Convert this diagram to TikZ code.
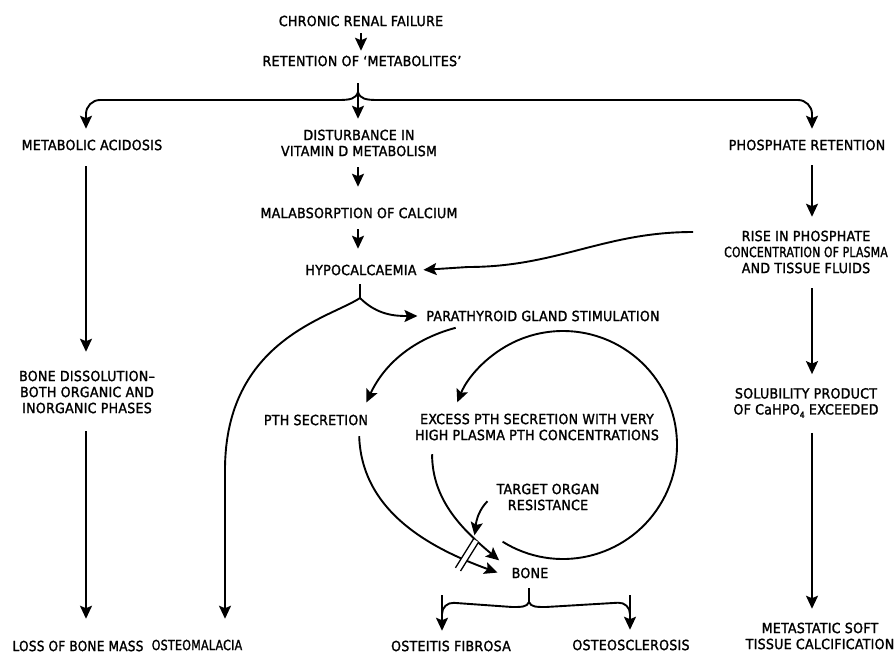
\documentclass[tikz,border=0pt]{standalone}
\usepackage{fontspec}
\setmainfont{DejaVu Sans Condensed}[LetterSpace=2, FakeBold=1.6]
\usetikzlibrary{arrows.meta}
\newcommand{\lowidx}[1]{\raisebox{-.45ex}{\fontsize{8.5}{8.5}\selectfont #1}}
\newcommand{\narrow}[2][0.85]{\scalebox{#1}[1]{#2}}

\begin{document}
\begin{tikzpicture}[x=1pt, y=1pt, line width=1.9pt,
    lbl/.style={align=center, inner sep=4pt, font=\fontsize{14}{16}\selectfont},
    arr/.style={-{Stealth[length=13pt,width=12pt,inset=2.5pt]}, shorten >=9pt, shorten <=10pt},
    bar/.style={line width=1.3pt}]
    \useasboundingbox (0,0) rectangle (895,-653);

    \coordinate (lcol) at (86,0);
    \coordinate (mcol) at (225,0);
    \coordinate (rcol) at (812,0);
    \coordinate (fibcol) at (442,0);
    \coordinate (sclcol) at (630,0);

    \node[lbl] (crf) at (361,-21) {CHRONIC RENAL FAILURE};
    \node[lbl] (ret) at (362,-61) {RETENTION OF ‘METABOLITES’};
    \node[lbl] (acid) at (92,-145) {METABOLIC ACIDOSIS};
    \node[lbl] (vitd) at (359,-143) {DISTURBANCE IN\\VITAMIN D METABOLISM};
    \node[lbl] (phos) at (807,-145) {PHOSPHATE RETENTION};
    \node[lbl] (malabs) at (359,-213) {MALABSORPTION OF CALCIUM};
    \node[lbl] (hypo) at (361,-270) {HYPOCALCAEMIA};
    \node[lbl] (rise) at (806,-252) {RISE IN PHOSPHATE\\\narrow[0.86]{CONCENTRATION OF PLASMA}\\AND TISSUE FLUIDS};
    \node[lbl] (para) at (543,-316) {PARATHYROID GLAND STIMULATION};
    \node[lbl] (dissol) at (87,-392) {BONE DISSOLUTION–\\BOTH ORGANIC AND\\INORGANIC PHASES};
    \node[lbl] (pth) at (316,-420) {PTH SECRETION};
    \node[lbl] (excess) at (537,-427) {EXCESS PTH SECRETION WITH VERY\\HIGH PLASMA PTH CONCENTRATIONS};
    \node[lbl] (solub) at (806,-403) {SOLUBILITY PRODUCT\\OF CaHPO\lowidx{4} EXCEEDED};
    \node[lbl] (target) at (548,-497) {TARGET ORGAN\\RESISTANCE};
    \node[lbl] (bone) at (530,-573) {BONE};
    \node[lbl] (meta) at (820,-636) {METASTATIC SOFT\\TISSUE CALCIFICATION};
    \node[lbl] (loss) at (78,-646) {\narrow[0.96]{LOSS OF BONE MASS}};
    \node[lbl] (malacia) at (197,-645) {\narrow[0.88]{OSTEOMALACIA}};
    \node[lbl] (fibrosa) at (451,-646) {OSTEITIS FIBROSA};
    \node[lbl] (sclerosis) at (631,-645) {OSTEOSCLEROSIS};

    % top of the chart
    \draw[arr, shorten <=2pt, shorten >=0pt] (crf.south) -- (crf.south |- ret.north);
    \coordinate (junc) at (358,-92);
    \coordinate (lcorner) at (86,-100);
    \coordinate (rcorner) at (812,-100);
    \draw[shorten <=12pt] (ret.south -| junc) -- (junc);
    \draw[arr, shorten <=0pt, shorten >=6pt] (junc) .. controls (356,-99) and (350,-100) .. (338,-100)
        [rounded corners=14pt] -- (lcorner) -- (lcorner |- acid.north);
    \draw[arr, shorten <=0pt, shorten >=6pt] (junc) .. controls (360,-99) and (366,-100) .. (378,-100)
        [rounded corners=14pt] -- (rcorner) -- (rcorner |- phos.north);
    \draw[arr, shorten <=0pt, shorten >=6pt] (junc) -- (junc |- vitd.north);

    % middle column
    \draw[arr, shorten <=6pt, shorten >=16pt] (vitd.south -| junc) -- (junc |- malabs.north);
    \draw[arr, shorten <=6pt, shorten >=11pt] (malabs.south -| junc) -- (junc |- hypo.north);
    \coordinate (hfork) at (360,-298);
    \draw[shorten <=4pt] (hypo.south -| hfork) -- (hfork);
    \draw[arr, shorten <=0pt, shorten >=16pt] (hfork) .. controls (330,-318) and (225,-340) .. (225,-470)
        -- (mcol |- malacia.north);
    \draw[arr, shorten <=0pt, shorten >=4pt] (hfork) to[out=-45, in=180] (para.west);

    % left and right columns
    \draw[arr, shorten <=11pt, shorten >=14pt] (acid.south -| lcol) -- (lcol |- dissol.north);
    \draw[arr, shorten <=13pt, shorten >=17pt] (dissol.south -| lcol) -- (lcol |- loss.north);
    \draw[arr] (phos.south -| rcol) -- (rcol |- rise.north);
    \draw[arr] (rise.south -| rcol) -- (rcol |- solub.north);
    \draw[arr] (solub.south -| rcol) -- (rcol |- meta.north);
    \coordinate (risein) at (693,-232);
    \draw[arr, shorten <=0pt, shorten >=2pt] (risein) to[out=180, in=0] (468,-267) -- (hypo.east);

    % parathyroid and bone
    \draw[arr, shorten <=6pt, shorten >=8pt] ([xshift=40pt]para.south west)
        to[out=195, in=65] ([xshift=-10pt]pth.north east);
    \draw[arr, shorten <=6pt, shorten >=10pt] ([xshift=-14pt]pth.south east)
        to[out=-88, in=160] ([yshift=-3pt]bone.west);
    \draw[arr, shorten <=9pt, shorten >=10pt] ([xshift=22pt]excess.south west)
        to[out=-90, in=140] ([yshift=-4pt]bone.north west);
    \coordinate (loopc) at (563,-445);
    \draw[arr, shorten <=0pt, shorten >=0pt] ([shift={(238:114)}]loopc) arc[start angle=238, end angle=518, radius=114];

    \coordinate (block) at (467,-555);
    \begin{scope}[shift={(block)}, rotate=58]
        \fill[white] (-17,-3) rectangle (17,3);
        \draw[bar] (-17,-3) -- (17,-3) (-17,3) -- (17,3);
    \end{scope}
    \draw[arr, shorten <=6pt, shorten >=20pt] (target.west) to[out=225, in=80] ([xshift=4pt]block);

    \coordinate (bfork) at (529,-602);
    \draw[shorten <=5pt] (bone.south -| bfork) -- (bfork);
    \draw[arr, shorten <=0pt, shorten >=5pt] (bfork) .. controls (527,-607) and (522,-607) .. (512,-607)
        [rounded corners=12pt] -- (fibcol |- bfork) -- ++(0,-5) -- (fibcol |- fibrosa.north);
    \draw[arr, shorten <=0pt, shorten >=5pt] (bfork) .. controls (531,-607) and (536,-607) .. (546,-607)
        [rounded corners=12pt] -- (sclcol |- bfork) -- ++(0,-5) -- (sclcol |- sclerosis.north);
\end{tikzpicture}
\end{document}
